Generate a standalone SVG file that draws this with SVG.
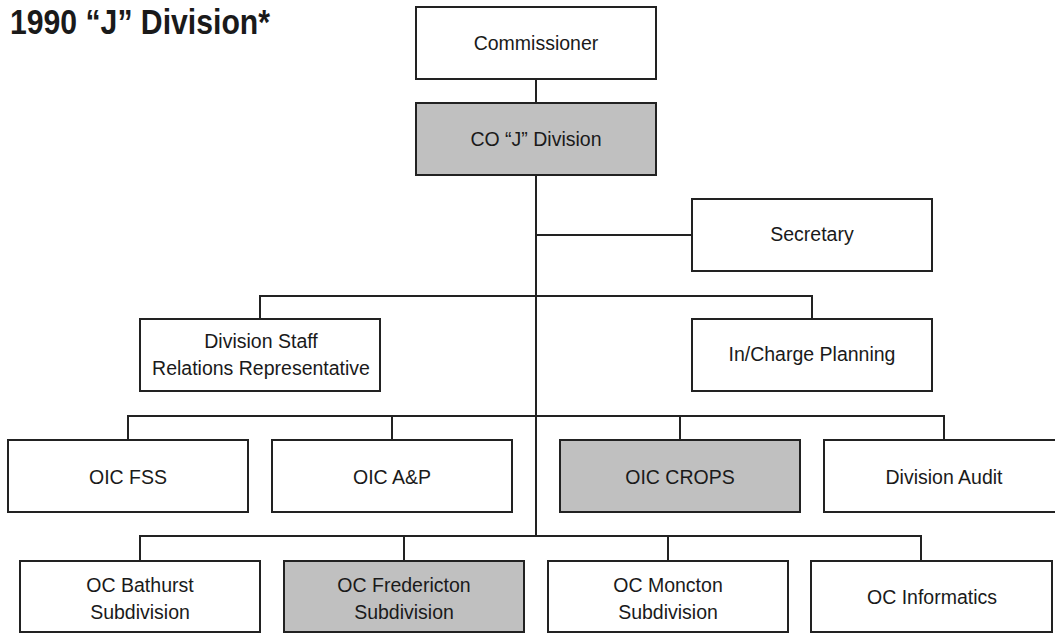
<svg xmlns="http://www.w3.org/2000/svg" width="1055" height="633" viewBox="0 0 1055 633">
<style>
.box{fill:#fff;stroke:#222;stroke-width:2}
.hl{fill:#c0c0c0}
.lbl{font-family:"Liberation Sans",Arial,sans-serif;font-size:19.5px;fill:#1a1a1a;text-anchor:middle}
.title{font-family:"Liberation Sans",Arial,sans-serif;font-size:35px;font-weight:bold;fill:#1a1a1a}
.conn{fill:none;stroke:#222;stroke-width:2}
</style>
<rect width="1055" height="633" fill="#fff"/>
<text class="title" x="10" y="34" textLength="260" lengthAdjust="spacingAndGlyphs">1990 “J” Division*</text>
<g id="connectors">
<path class="conn" d="M536 79V103M536 175V536M536 235H692M260 319V296H812V319M128 440V416H944V440M392 416V440M680 416V440M140 561V536H921V561M404 536V561M668 536V561"/>
</g>
<g id="commissioner"><rect class="box" x="416" y="7" width="240" height="72"/><text class="lbl" x="536" y="50">Commissioner</text></g>
<g id="co-j-division"><rect class="box hl" x="416" y="103" width="240" height="72"/><text class="lbl" x="536" y="146">CO “J” Division</text></g>
<g id="secretary"><rect class="box" x="692" y="199" width="240" height="72"/><text class="lbl" x="812" y="241">Secretary</text></g>
<g id="division-staff"><rect class="box" x="140" y="319" width="240" height="72"/><text class="lbl" x="261" y="348">Division Staff</text><text class="lbl" x="261" y="375">Relations Representative</text></g>
<g id="in-charge-planning"><rect class="box" x="692" y="319" width="240" height="72"/><text class="lbl" x="812" y="361">In/Charge Planning</text></g>
<g id="oic-fss"><rect class="box" x="8" y="440" width="240" height="72"/><text class="lbl" x="128" y="484">OIC FSS</text></g>
<g id="oic-ap"><rect class="box" x="272" y="440" width="240" height="72"/><text class="lbl" x="392" y="484">OIC A&amp;P</text></g>
<g id="oic-crops"><rect class="box hl" x="560" y="440" width="240" height="72"/><text class="lbl" x="680" y="484">OIC CROPS</text></g>
<g id="division-audit"><rect class="box" x="824" y="440" width="240" height="72"/><text class="lbl" x="944" y="484">Division Audit</text></g>
<g id="oc-bathurst"><rect class="box" x="20" y="561" width="240" height="71"/><text class="lbl" x="140" y="592">OC Bathurst</text><text class="lbl" x="140" y="619">Subdivision</text></g>
<g id="oc-fredericton"><rect class="box hl" x="284" y="561" width="240" height="71"/><text class="lbl" x="404" y="592">OC Fredericton</text><text class="lbl" x="404" y="619">Subdivision</text></g>
<g id="oc-moncton"><rect class="box" x="548" y="561" width="240" height="71"/><text class="lbl" x="668" y="592">OC Moncton</text><text class="lbl" x="668" y="619">Subdivision</text></g>
<g id="oc-informatics"><rect class="box" x="811" y="561" width="241" height="71"/><text class="lbl" x="932" y="604">OC Informatics</text></g>
</svg>
